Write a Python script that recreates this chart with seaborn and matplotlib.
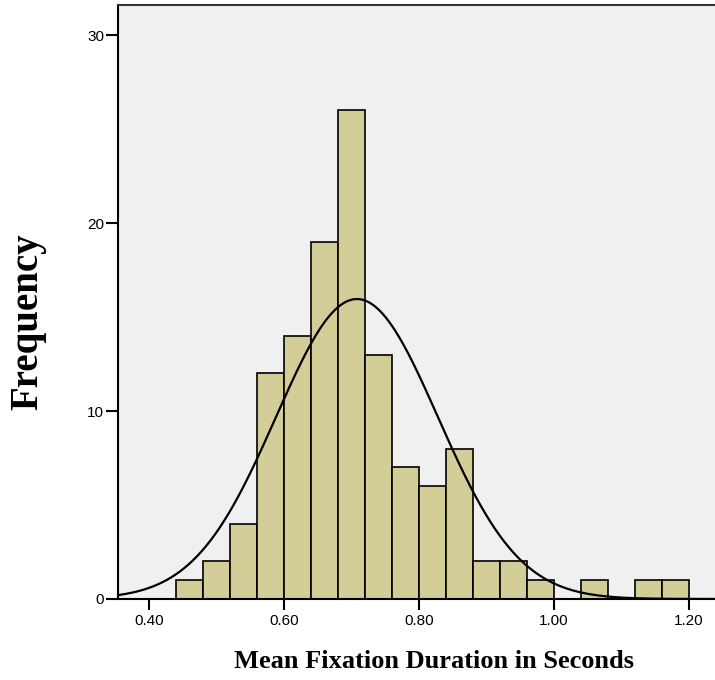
import numpy as np
import pandas as pd
import matplotlib
matplotlib.use("Agg")
import matplotlib.pyplot as plt
import seaborn as sns

# Data
bin_edges = [0.44, 0.48, 0.52, 0.56, 0.60, 0.64, 0.68, 0.72, 0.76, 0.80,
             0.84, 0.88, 0.92, 0.96, 1.00, 1.04, 1.08, 1.12, 1.16, 1.20]
counts = [1, 2, 4, 12, 14, 19, 26, 13, 7, 6, 8, 2, 2, 1, 0, 1, 0, 1, 1]
fit_mean = 0.708
fit_sd = 0.12
x_ticks = [0.40, 0.60, 0.80, 1.00, 1.20]
x_tick_labels = ["0.40", "0.60", "0.80", "1.00", "1.20"]
y_ticks = [0, 10, 20, 30]

sns.set_style("white")
plt.rcParams["font.family"] = ["Liberation Sans", "DejaVu Sans"]
plt.rcParams["text.color"] = "black"

edges = np.array(bin_edges)
centers = (edges[:-1] + edges[1:]) / 2
df = pd.DataFrame({"x": centers, "count": counts})

fig = plt.figure(figsize=(7.15, 6.8), dpi=100)
ax = fig.add_axes([118 / 715, 1 - 599 / 680, 1 - 118 / 715, (599 - 5) / 680])
ax.set_facecolor("#F0F0F0")

sns.histplot(data=df, x="x", weights="count", bins=list(bin_edges), color="#D3CE98",
             edgecolor="black", linewidth=1.2, alpha=1, ax=ax)

n = sum(counts)
bw = edges[1] - edges[0]
xx = np.linspace(0.354, 1.2385, 400)
yy = n * bw / (fit_sd * np.sqrt(2 * np.pi)) * np.exp(-0.5 * ((xx - fit_mean) / fit_sd) ** 2)
sns.lineplot(x=xx, y=yy, color="black", linewidth=1.6, ax=ax)

ax.set_xlim(0.354, 1.2385)
ax.set_ylim(0, 31.6)
ax.set_xticks(x_ticks)
ax.set_xticklabels(x_tick_labels)
ax.set_yticks(y_ticks)
ax.tick_params(axis="both", direction="out", length=8, width=1.5, colors="black",
               labelsize=11, pad=3, bottom=True, left=True)
ax.tick_params(axis="y", length=9, pad=1)
for s in ["left", "bottom", "top"]:
    ax.spines[s].set_visible(True)
    ax.spines[s].set_color("black")
    ax.spines[s].set_linewidth(1.5)
ax.spines["top"].set_color("#333333")
ax.spines["right"].set_visible(False)

ax.set_xlabel("Mean Fixation Duration in Seconds", family=["Liberation Serif", "DejaVu Serif"],
              fontweight="bold", fontsize=19, color="black", va="center")
ax.set_ylabel("Frequency", family=["Liberation Serif", "DejaVu Serif"],
              fontweight="bold", fontsize=28, color="black", va="center")
ax.xaxis.set_label_coords((434 - 118) / (715 - 118), -(662 - 599) / 594)
ax.yaxis.set_label_coords(-(118 - 28) / 597, (599 - 322) / 594)

fig.savefig("out.png", dpi=100)
